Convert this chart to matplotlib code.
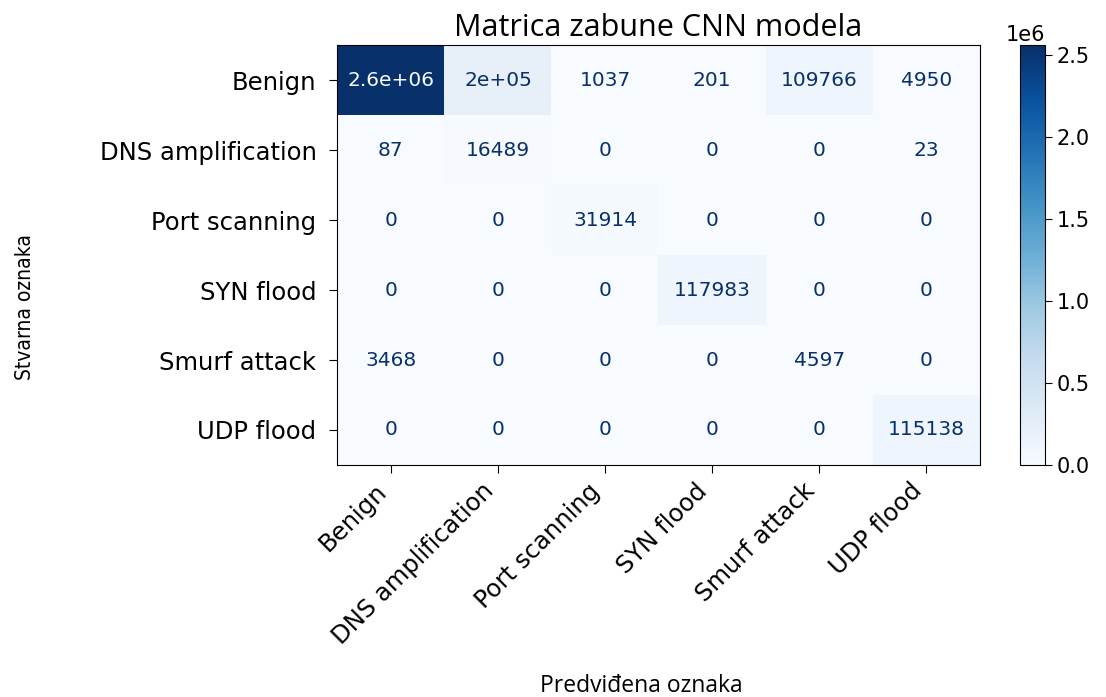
import numpy as np
import matplotlib
matplotlib.use("Agg")
import matplotlib.pyplot as plt

labels = ["Benign", "DNS amplification", "Port scanning", "SYN flood", "Smurf attack", "UDP flood"]
row_benign = [2560000, 200000, 1037, 201, 109766, 4950]
row_dns = [87, 16489, 0, 0, 0, 23]
row_port = [0, 0, 31914, 0, 0, 0]
row_syn = [0, 0, 0, 117983, 0, 0]
row_smurf = [3468, 0, 0, 0, 4597, 0]
row_udp = [0, 0, 0, 0, 0, 115138]

cm = np.array([row_benign, row_dns, row_port, row_syn, row_smurf, row_udp], dtype=np.int64)

fig = plt.figure(figsize=(11.06, 6.97), dpi=100)
ax = fig.add_axes([0.305, 0.333, 0.581, 0.602])
cax = fig.add_axes([0.922, 0.333, 0.023, 0.602])

cmap = plt.cm.Blues
im = ax.imshow(cm, cmap=cmap, aspect="auto", interpolation="nearest")
cb = fig.colorbar(im, cax=cax)
cb.ax.tick_params(labelsize=15, length=5)
cb.ax.yaxis.get_offset_text().set_fontsize(15)

cmap_min, cmap_max = cmap(0.0), cmap(1.0)
thresh = (cm.max() + cm.min()) / 2.0
n = len(labels)
for i in range(n):
    for j in range(n):
        v = cm[i, j]
        txt = format(v, ".2g")
        td = format(v, "d")
        if len(td) < len(txt):
            txt = td
        color = cmap_max if v < thresh else cmap_min
        ax.text(j, i, txt, ha="center", va="center", color=color, fontsize=14.5)

ax.set_xticks(range(n))
ax.set_yticks(range(n))
ax.set_xticklabels(labels, rotation=45, ha="right", rotation_mode="default", fontsize=17.5)
ax.set_yticklabels(labels, fontsize=17.5)
ax.tick_params(axis="y", length=6, pad=9)
ax.tick_params(axis="x", length=6, pad=4)

ax.set_title("Matrica zabune CNN modela", fontsize=22, family="Open Sans", pad=7)
fig.text(0.023, 0.56, "Stvarna oznaka", rotation=90, ha="center", va="center",
         fontsize=15, family="DejaVu Sans", stretch="condensed")
fig.text(0.58, 0.016, "Predviđena oznaka", ha="center", va="center",
         fontsize=16.5, family="Open Sans")

fig.savefig("out.png", dpi=100)
